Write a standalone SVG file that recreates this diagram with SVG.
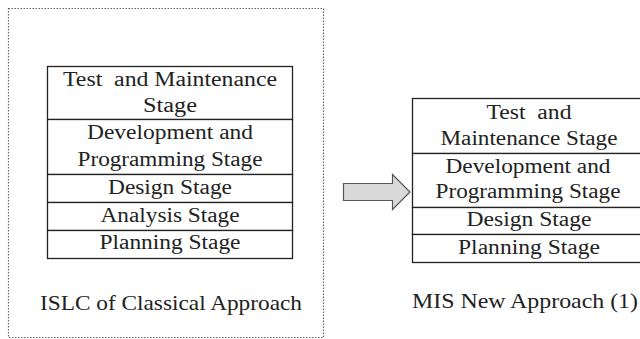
<svg xmlns="http://www.w3.org/2000/svg" width="640" height="339" viewBox="0 0 640 339">
<defs>
<style>
.frame{fill:none;stroke:#666;stroke-width:1.2;stroke-dasharray:1.5 1.5}
.cell{fill:#fff;stroke:#222;stroke-width:1.3}
text{fill:#222;text-anchor:middle}
.t{font-size:20px}
.cap{font-size:21px}
.arrow{fill:#d9d9d9;stroke:#555;stroke-width:1.2}
</style>
</defs>
<rect width="640" height="339" fill="#fff"/>
<g font-family="Liberation Serif, DejaVu Serif, Times New Roman, serif">
<g id="classical">
<rect class="frame" x="8.5" y="8.5" width="315" height="329"/>
<g id="c-test">
<rect class="cell" x="47.5" y="66.5" width="245" height="53"/>
<text class="t" x="170" y="86" textLength="214" lengthAdjust="spacingAndGlyphs">Test&#160; and Maintenance</text>
<text class="t" x="170" y="112" textLength="54" lengthAdjust="spacingAndGlyphs">Stage</text>
</g>
<g id="c-dev">
<rect class="cell" x="47.5" y="119.5" width="245" height="55"/>
<text class="t" x="170" y="139" textLength="166" lengthAdjust="spacingAndGlyphs">Development and</text>
<text class="t" x="170" y="166" textLength="185" lengthAdjust="spacingAndGlyphs">Programming Stage</text>
</g>
<g id="c-design">
<rect class="cell" x="47.5" y="174.5" width="245" height="28"/>
<text class="t" x="170" y="194" textLength="124" lengthAdjust="spacingAndGlyphs">Design Stage</text>
</g>
<g id="c-analysis">
<rect class="cell" x="47.5" y="202.5" width="245" height="28"/>
<text class="t" x="170" y="222" textLength="139" lengthAdjust="spacingAndGlyphs">Analysis Stage</text>
</g>
<g id="c-planning">
<rect class="cell" x="47.5" y="230.5" width="245" height="28"/>
<text class="t" x="170" y="249" textLength="141" lengthAdjust="spacingAndGlyphs">Planning Stage</text>
</g>
<text class="cap" x="171" y="310" textLength="262" lengthAdjust="spacingAndGlyphs">ISLC of Classical Approach</text>
</g>
<g id="connectors">
<path class="arrow" d="M343.5,183.5 H392.5 V174.5 L410,192 L392.5,209.5 V200.5 H343.5 Z"/>
</g>
<g id="mis">
<g id="m-test">
<rect class="cell" x="412.5" y="98.5" width="240" height="55"/>
<text class="t" x="529" y="119" textLength="85" lengthAdjust="spacingAndGlyphs">Test&#160; and</text>
<text class="t" x="529" y="145" textLength="177" lengthAdjust="spacingAndGlyphs">Maintenance Stage</text>
</g>
<g id="m-dev">
<rect class="cell" x="412.5" y="153.5" width="240" height="54"/>
<text class="t" x="528" y="173" textLength="165" lengthAdjust="spacingAndGlyphs">Development and</text>
<text class="t" x="528" y="198" textLength="185" lengthAdjust="spacingAndGlyphs">Programming Stage</text>
</g>
<g id="m-design">
<rect class="cell" x="412.5" y="207.5" width="240" height="27"/>
<text class="t" x="529" y="226" textLength="125" lengthAdjust="spacingAndGlyphs">Design Stage</text>
</g>
<g id="m-planning">
<rect class="cell" x="412.5" y="234.5" width="240" height="28"/>
<text class="t" x="529" y="254" textLength="142" lengthAdjust="spacingAndGlyphs">Planning Stage</text>
</g>
<text class="cap" x="525" y="308" textLength="226" lengthAdjust="spacingAndGlyphs">MIS New Approach (1)</text>
</g>
</g>
</svg>
